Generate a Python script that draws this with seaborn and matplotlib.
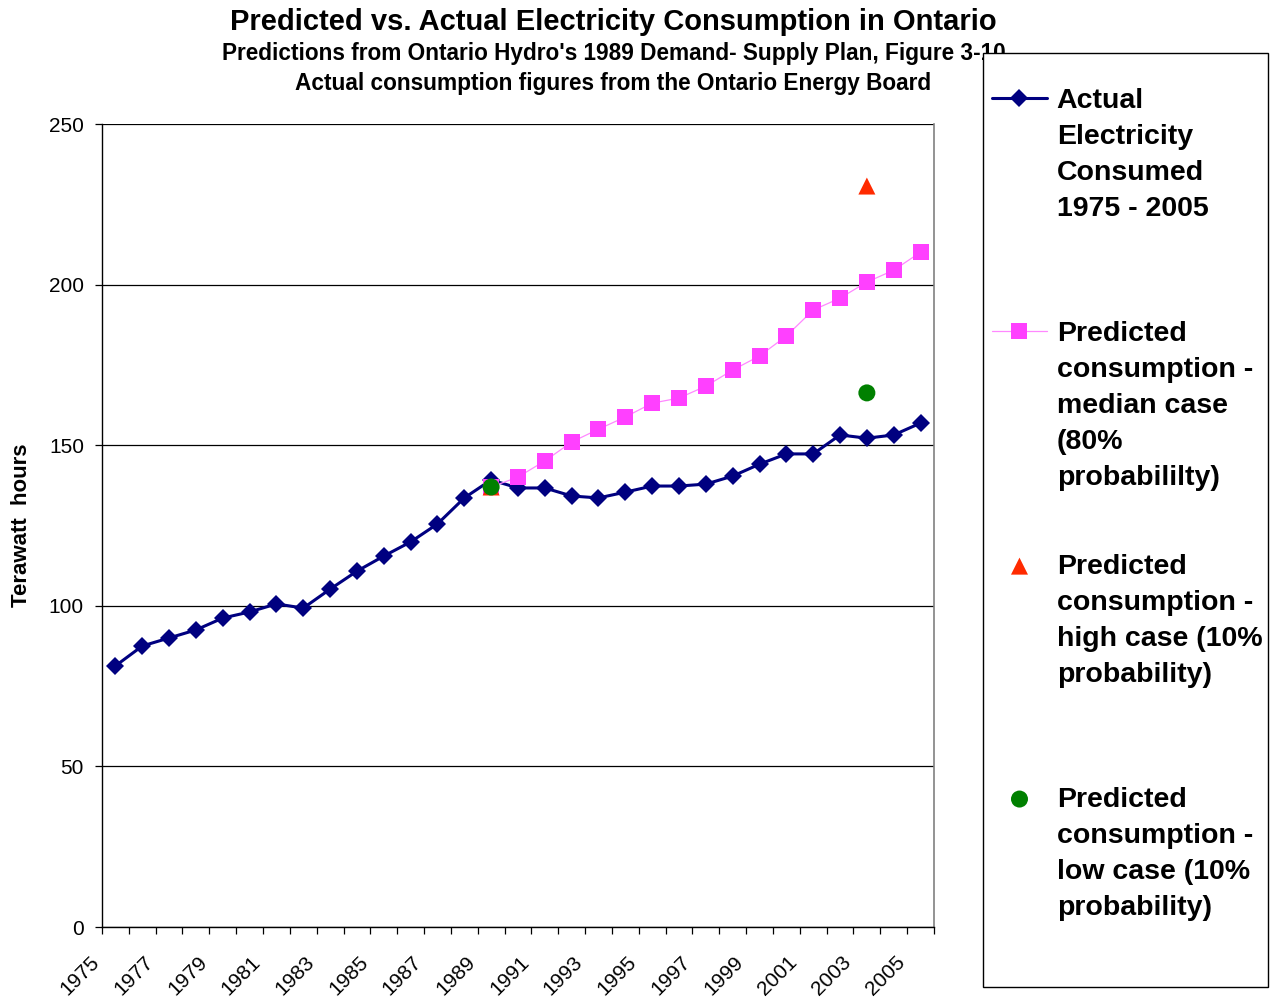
import numpy as np
import pandas as pd
import seaborn as sns
import matplotlib.pyplot as plt
from matplotlib.patches import Rectangle
from matplotlib.transforms import ScaledTranslation

# years on the category axis
years = list(range(1975, 2006))
tick_years = years[::2]

actual_twh = [81.3, 87.5, 90.0, 92.5, 96.2, 98.1, 100.6, 99.3, 105.2, 110.8,
              115.5, 119.9, 125.5, 133.6, 139.2, 136.7, 136.7, 134.2, 133.6, 135.4,
              137.3, 137.3, 137.9, 140.4, 144.1, 147.3, 147.3, 153.2, 152.2, 153.2,
              156.9]

median_years = list(range(1989, 2006))
median_twh = [137.0, 140.1, 145.1, 151.0, 155.0, 158.8, 163.1, 164.7, 168.4,
              173.4, 177.8, 184.0, 192.1, 195.8, 200.8, 204.5, 210.1]

high_years = [1989, 2003]
high_twh = [137.0, 230.7]

low_years = [1989, 2003]
low_twh = [137.0, 166.3]

labels = ["Actual\nElectricity\nConsumed\n1975 - 2005\n",
          "Predicted\nconsumption -\nmedian case\n(80%\nprobabililty)",
          "Predicted\nconsumption -\nhigh case (10%\nprobability)\n",
          "Predicted\nconsumption -\nlow case (10%\nprobability)\n"]

actual = pd.DataFrame({"year": years, "twh": actual_twh})
median = pd.DataFrame({"year": median_years, "twh": median_twh})
high = pd.DataFrame({"year": high_years, "twh": high_twh})
low = pd.DataFrame({"year": low_years, "twh": low_twh})

sns.set_theme(style="white")
plt.rcParams['font.family'] = ['Liberation Sans', 'DejaVu Sans']
for key in ["text.color", "axes.labelcolor", "xtick.color", "ytick.color"]:
    plt.rcParams[key] = "black"

fig = plt.figure(figsize=(12.78, 9.98), dpi=100)
ax = fig.add_axes([0.0798, 0.0711, 0.651, 0.8046])

sns.lineplot(data=actual, x="year", y="twh", ax=ax, color="#000080", linewidth=2.2,
             marker="D", markersize=9, markeredgewidth=0, label=labels[0], zorder=2)
sns.lineplot(data=median, x="year", y="twh", ax=ax, color="#FF88FF", linewidth=0.9,
             marker="s", markersize=11.5, markerfacecolor="#FF40FF",
             markeredgewidth=0, label=labels[1], zorder=3)
sns.scatterplot(data=high, x="year", y="twh", ax=ax, color="#FF2A00", marker="^",
                s=150, edgecolor="none", label=labels[2], zorder=4)
sns.scatterplot(data=low, x="year", y="twh", ax=ax, color="#008000", marker="o",
                s=150, edgecolor="none", label=labels[3], zorder=5)

ax.set_xlim(1974.5, 2005.5)
ax.set_ylim(0, 250)
ax.set_yticks([0, 50, 100, 150, 200, 250])
ax.yaxis.grid(True, color="black", linewidth=0.9)
ax.set_axisbelow(True)

ax.set_xticks(tick_years)
ax.set_xticklabels([str(y) for y in tick_years], rotation=45, ha="right",
                   fontsize=15)
ax.set_xticks(np.arange(1974.5, 2006, 1.0), minor=True)
ax.tick_params(axis="x", which="major", length=0, pad=18)
ax.tick_params(axis="x", which="minor", length=5, width=0.9, color="black",
               direction="out", bottom=True)
ax.tick_params(axis="y", length=5, width=0.9, color="black", direction="out",
               left=True, labelsize=15, pad=8)

# nudge the rotated year labels left of their category centres
shift = ScaledTranslation(-0.12, 0, fig.dpi_scale_trans)
for lbl in ax.get_xticklabels():
    lbl.set_transform(lbl.get_transform() + shift)

for side in ["left", "bottom"]:
    ax.spines[side].set_color("black")
    ax.spines[side].set_linewidth(1.0)
ax.spines["top"].set_visible(False)
ax.spines["right"].set_color("#808080")
ax.spines["right"].set_linewidth(1.2)

ax.set_xlabel("")
ax.set_ylabel("Terawatt  hours", fontsize=16, fontweight="bold", labelpad=12)

fig.text(0.48, 0.978, "Predicted vs. Actual Electricity Consumption in Ontario",
         ha="center", va="center", fontsize=21, fontweight="bold")
fig.text(0.48, 0.946,
         "Predictions from Ontario Hydro's 1989 Demand- Supply Plan, Figure 3-10",
         ha="center", va="center", fontsize=16.3, fontweight="bold")
fig.text(0.48, 0.916, "Actual consumption figures from the Ontario Energy Board",
         ha="center", va="center", fontsize=16.3, fontweight="bold")

# legend box
fig.patches.append(Rectangle((0.7692, 0.011), 0.223, 0.936, transform=fig.transFigure,
                             facecolor="white", edgecolor="black", linewidth=1.0,
                             zorder=4))

handles, labs = ax.get_legend_handles_labels()
ax.get_legend().remove()
leg = fig.legend(handles, labs, loc="upper left", bbox_to_anchor=(0.776, 0.912),
                 frameon=False, borderaxespad=0, borderpad=0,
                 prop={"weight": "bold", "size": 20.5}, handlelength=1.95,
                 handletextpad=0.33, labelspacing=2.21, numpoints=1, scatterpoints=1)
leg.set_zorder(6)
for t in leg.get_texts():
    t.set_linespacing(1.5)
for col in leg._legend_handle_box.get_children():
    for item in col.get_children():
        item.align = "top"

fig.savefig("out.png", dpi=100)
